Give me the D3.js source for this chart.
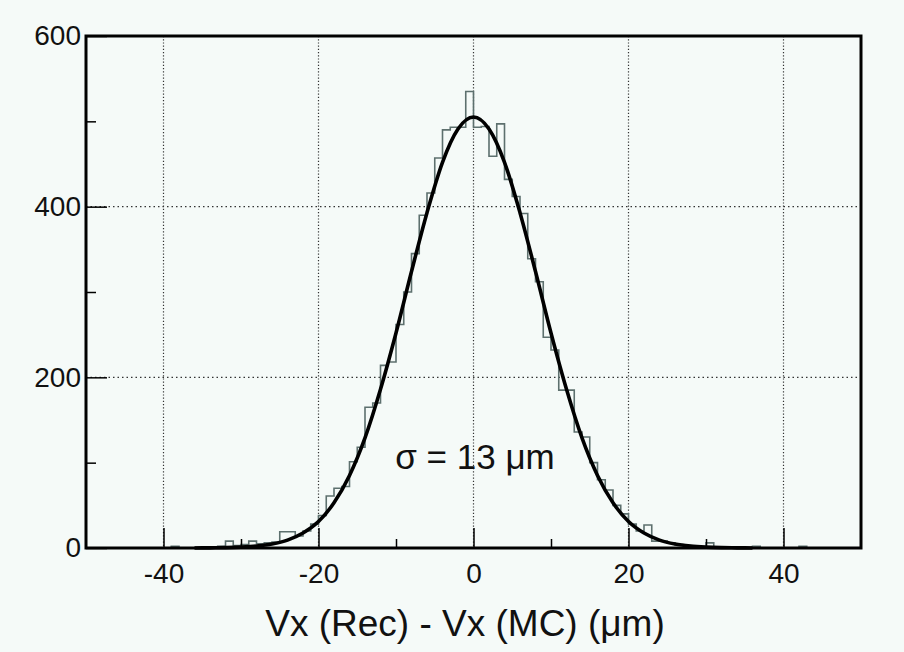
<!DOCTYPE html>
<html>
<head>
<meta charset="utf-8">
<script src="https://d3js.org/d3.v7.min.js"></script>
<style>
  body { margin: 0; background: #f5faf8; }
  svg { display: block; }
</style>
</head>
<body>
<div id="chart"></div>
<script>
// histogram bins, 1 um wide, lower edges from -50 to 49
var binLow = d3.range(-50, 50, 1);
var binCounts = [
    0, 0, 0, 0, 0, 0, 0, 0, 0, 0,          // -50 .. -41
    0, 2, 0, 0, 0, 1, 1, 2, 8, 3,          // -40 .. -31
    4, 8, 5, 6, 7, 19, 19, 14, 20, 28,     // -30 .. -21
    38, 61, 70, 72, 101, 118, 165, 170, 214, 218,   // -20 .. -11
    262, 300, 345, 390, 416, 457, 490, 493, 493, 535, // -10 .. -1
    493, 494, 459, 497, 432, 412, 392, 339, 312, 247, //  0 .. 9
    232, 185, 185, 136, 130, 100, 80, 68, 50, 40,     // 10 .. 19
    28, 20, 27, 8, 8, 6, 4, 3, 2, 1,                  // 20 .. 29
    6, 1, 1, 0, 0, 0, 2, 0, 0, 0,                     // 30 .. 39
    0, 0, 2, 0, 0, 0, 0, 0, 0, 0                      // 40 .. 49
];

// fitted curve
var fitX = [-36, -34, -32, -30, -28, -26, -24, -22, -20, -18, -16, -14, -12, -10, -8, -6, -4, -2,
            0, 2, 4, 6, 8, 10, 12, 14, 16, 18, 20, 22, 24, 26, 28, 30, 32, 34, 36];
var fitY = [0, 0.2, 0.4, 1, 2.2, 4.6, 9.2, 17.5, 31, 53, 85, 129, 186, 252, 324, 393, 452, 491,
            505, 491, 452, 393, 324, 252, 186, 129, 85, 53, 31, 17.5, 9.2, 4.6, 2.2, 1, 0.4, 0.2, 0];

var xMajor = [-40, -20, 0, 20, 40];
var xMinor = [-30, -10, 10, 30];
var yMajor = [0, 200, 400, 600];
var yMinor = [100, 300, 500];
var yGrid = [200, 400];

var width = 904, height = 652;
var plotL = 86, plotR = 861, plotT = 36, plotB = 548;
var font = "'Liberation Sans', Arial, sans-serif";

var svg = d3.select("#chart").append("svg")
    .attr("width", width)
    .attr("height", height);

svg.append("rect")
    .attr("width", width).attr("height", height)
    .attr("fill", "#f5faf8");

var x = d3.scaleLinear().domain([-50, 50]).range([plotL, plotR]);
var y = d3.scaleLinear().domain([0, 600]).range([plotB, plotT]);

// dotted grid
svg.selectAll(".vgrid")
    .data(xMajor)
    .enter().append("line")
    .attr("class", "vgrid")
    .attr("x1", function(d) { return x(d); })
    .attr("x2", function(d) { return x(d); })
    .attr("y1", plotT)
    .attr("y2", plotB)
    .attr("stroke", "#333")
    .attr("stroke-width", 1.2)
    .attr("stroke-dasharray", "1.2,2");

svg.selectAll(".hgrid")
    .data(yGrid)
    .enter().append("line")
    .attr("class", "hgrid")
    .attr("x1", plotL)
    .attr("x2", plotR)
    .attr("y1", function(d) { return y(d); })
    .attr("y2", function(d) { return y(d); })
    .attr("stroke", "#333")
    .attr("stroke-width", 1.2)
    .attr("stroke-dasharray", "1.5,3");

// histogram outline
var histPts = binLow.map(function(lo, i) { return [lo, binCounts[i]]; });
histPts.push([50, binCounts[binCounts.length - 1]]);

var stepLine = d3.line()
    .x(function(d) { return x(d[0]); })
    .y(function(d) { return y(d[1]); })
    .curve(d3.curveStepAfter);

svg.append("path")
    .datum(histPts)
    .attr("d", stepLine)
    .attr("fill", "none")
    .attr("stroke", "#5d706e")
    .attr("stroke-width", 1.6);

// fit curve
var fitLine = d3.line()
    .x(function(d, i) { return x(fitX[i]); })
    .y(function(d) { return y(d); })
    .curve(d3.curveMonotoneX);

svg.append("path")
    .datum(fitY)
    .attr("d", fitLine)
    .attr("fill", "none")
    .attr("stroke", "#000")
    .attr("stroke-width", 3.6);

// axes: ticks point inward
var fmt = function(d) { return String(d); };
var xAxis = d3.axisBottom(x).tickValues(xMajor).tickSize(-20).tickPadding(15).tickFormat(fmt);
var xAxisMinor = d3.axisBottom(x).tickValues(xMinor).tickSize(-9).tickFormat("");
var yAxis = d3.axisLeft(y).tickValues(yMajor).tickSize(-21).tickPadding(5).tickFormat(fmt);
var yAxisMinor = d3.axisLeft(y).tickValues(yMinor).tickSize(-10).tickFormat("");

function styleAxis(g) {
    g.select(".domain").remove();
    g.selectAll(".tick line").attr("stroke", "#000").attr("stroke-width", 1.5);
    g.selectAll(".tick text")
        .style("font-family", font)
        .style("font-size", "28px")
        .attr("fill", "#111");
}

[xAxis, xAxisMinor].forEach(function(ax) {
    svg.append("g")
        .attr("transform", "translate(0," + plotB + ")")
        .call(ax)
        .call(styleAxis);
});

[yAxis, yAxisMinor].forEach(function(ax) {
    svg.append("g")
        .attr("transform", "translate(" + plotL + ",0)")
        .call(ax)
        .call(styleAxis);
});

// frame
svg.append("rect")
    .attr("x", plotL).attr("y", plotT)
    .attr("width", plotR - plotL).attr("height", plotB - plotT)
    .attr("fill", "none")
    .attr("stroke", "#000")
    .attr("stroke-width", 3);

// labels
svg.append("text")
    .attr("x", 465).attr("y", 636)
    .attr("text-anchor", "middle")
    .style("font-family", font)
    .style("font-size", "37px")
    .attr("fill", "#111")
    .text("Vx (Rec) - Vx (MC) (\u03bcm)");

svg.append("text")
    .attr("x", 475).attr("y", 469)
    .attr("text-anchor", "middle")
    .style("font-family", font)
    .style("font-size", "35px")
    .attr("fill", "#111")
    .text("\u03c3 = 13 \u03bcm");
</script>
</body>
</html>
